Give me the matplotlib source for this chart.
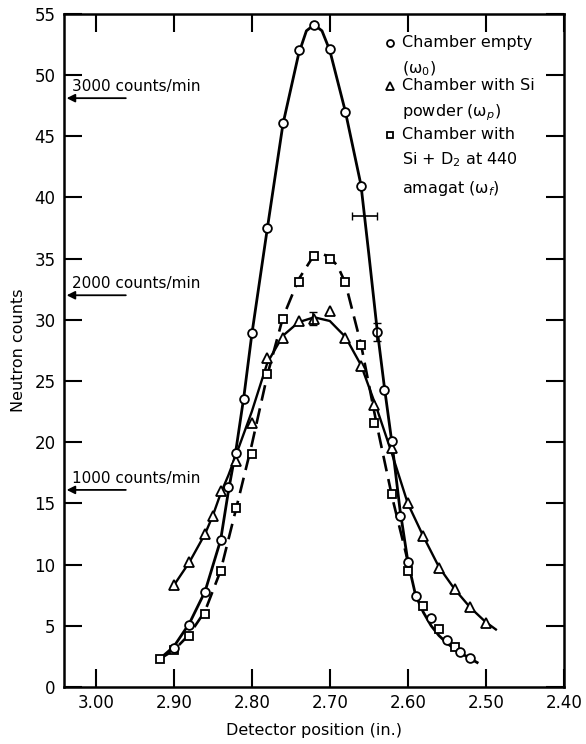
import numpy as np
import matplotlib
matplotlib.use("Agg")
import matplotlib.pyplot as plt

plt.rcParams['font.family'] = ['DejaVu Sans']

# measured points
empty_x = [2.90, 2.88, 2.86, 2.84, 2.83, 2.82, 2.81, 2.80, 2.78, 2.76, 2.74, 2.72, 2.70,
           2.68, 2.66, 2.64, 2.63, 2.62, 2.61, 2.60, 2.59, 2.57, 2.55, 2.533, 2.52]
empty_y = [3.2, 5.1, 7.8, 12.0, 16.3, 19.1, 23.5, 28.9, 37.5, 46.1, 52.0, 54.1, 52.1,
           47.0, 40.9, 29.0, 24.3, 20.1, 14.0, 10.2, 7.4, 5.6, 3.8, 2.9, 2.4]

powder_x = [2.90, 2.88, 2.86, 2.85, 2.84, 2.82, 2.80, 2.78, 2.76, 2.74, 2.72, 2.70,
            2.68, 2.66, 2.643, 2.62, 2.60, 2.58, 2.56, 2.54, 2.52, 2.50]
powder_y = [8.3, 10.2, 12.5, 14.0, 16.0, 18.5, 21.6, 26.9, 28.5, 29.9, 30.1, 30.7,
            28.5, 26.2, 23.0, 19.5, 15.0, 12.3, 9.7, 8.0, 6.5, 5.2]

d2_x = [2.918, 2.90, 2.88, 2.86, 2.84, 2.82, 2.80, 2.78, 2.76, 2.74, 2.72, 2.70,
        2.68, 2.66, 2.643, 2.62, 2.60, 2.58, 2.56, 2.54]
d2_y = [2.3, 3.0, 4.2, 6.0, 9.5, 14.6, 19.0, 25.6, 30.1, 33.1, 35.2, 35.0,
        33.1, 27.9, 21.6, 15.8, 9.5, 6.6, 4.7, 3.3]

# hand-drawn fitted curves
empty_fit_x = [2.918, 2.90, 2.88, 2.86, 2.84, 2.83, 2.82, 2.81, 2.80, 2.78, 2.76, 2.74,
               2.73, 2.72, 2.71, 2.70, 2.68, 2.66, 2.65, 2.64, 2.63, 2.62, 2.61, 2.60,
               2.59, 2.58, 2.57, 2.56, 2.55, 2.54, 2.53, 2.511]
empty_fit_y = [2.3, 3.3, 5.2, 7.8, 12.0, 16.0, 19.5, 23.8, 28.8, 37.5, 46.0, 51.7,
               53.6, 54.1, 53.6, 52.0, 47.0, 41.0, 35.4, 29.6, 24.5, 19.8, 14.5, 10.3,
               7.5, 6.1, 5.0, 4.2, 3.6, 3.1, 2.7, 2.0]

powder_fit_x = [2.90, 2.88, 2.86, 2.85, 2.84, 2.83, 2.82, 2.80, 2.78, 2.76, 2.74, 2.72,
                2.70, 2.68, 2.66, 2.64, 2.62, 2.60, 2.58, 2.56, 2.54, 2.52, 2.50, 2.487]
powder_fit_y = [8.3, 10.2, 12.5, 14.0, 15.8, 17.3, 19.0, 22.5, 26.5, 28.7, 29.8, 30.2,
                29.9, 28.6, 26.3, 22.8, 19.0, 15.0, 12.3, 9.8, 8.0, 6.5, 5.3, 4.7]

d2_fit_x = [2.918, 2.90, 2.88, 2.86, 2.84, 2.82, 2.80, 2.78, 2.76, 2.74, 2.72, 2.71,
            2.70, 2.69, 2.68, 2.66, 2.64, 2.62, 2.60]
d2_fit_y = [2.3, 3.0, 4.3, 6.2, 9.5, 14.6, 19.8, 25.5, 30.2, 33.3, 35.3, 35.4,
            35.1, 34.4, 33.0, 28.0, 21.5, 15.5, 10.3]

# count-rate markers on the left axis
rate_labels = ["3000 counts/min", "2000 counts/min", "1000 counts/min"]
rate_y = [48.1, 32.0, 16.1]

fig = plt.figure(figsize=(5.86, 7.44), dpi=100)
ax = fig.add_axes([0.109, 0.0766, 0.853, 0.905])

ax.plot(empty_fit_x, empty_fit_y, color='black', lw=2.0, zorder=2)
ax.plot(powder_fit_x, powder_fit_y, color='black', lw=1.7, zorder=2)
ax.plot(d2_fit_x, d2_fit_y, color='black', lw=1.9, dashes=(6, 3), zorder=2)

mk = dict(ls='none', mfc='white', mec='black', mew=1.3, zorder=3)
ax.plot(d2_x, d2_y, marker='s', ms=6, **mk)
ax.plot(powder_x, powder_y, marker='^', ms=6.5, **mk)
ax.plot(empty_x, empty_y, marker='o', ms=6.3, **mk)

# error bars
ax.errorbar([2.721], [30.1], yerr=[0.5], fmt='none', ecolor='black', elinewidth=1.2, capsize=3, zorder=4)
ax.errorbar([2.640], [29.0], yerr=[0.7], fmt='none', ecolor='black', elinewidth=1.2, capsize=3, zorder=4)
ax.errorbar([2.656], [38.5], xerr=[0.016], fmt='none', ecolor='black', elinewidth=1.2, capsize=3, zorder=4)

for lab, yv in zip(rate_labels, rate_y):
    ax.annotate('', xy=(3.041, yv), xytext=(2.958, yv),
                arrowprops=dict(arrowstyle='-|>', color='black', lw=1.3, mutation_scale=12))
    ax.text(3.031, yv + 0.35, lab, fontsize=11, ha='left', va='bottom')

# legend
leg_mx = 0.652
leg_tx = 0.676
ax.plot([leg_mx], [0.957], transform=ax.transAxes, marker='o', ms=5, **mk)
ax.plot([leg_mx], [0.893], transform=ax.transAxes, marker='^', ms=5.5, **mk)
ax.plot([leg_mx], [0.820], transform=ax.transAxes, marker='s', ms=5, **mk)
lines = [(0.957, "Chamber empty"), (0.918, "(ω$_0$)"),
         (0.893, "Chamber with Si"), (0.853, "powder (ω$_p$)"),
         (0.820, "Chamber with"), (0.783, "Si + D$_2$ at 440"),
         (0.741, "amagat (ω$_f$)")]
for yy, t in lines:
    ax.text(leg_tx, yy, t, transform=ax.transAxes, fontsize=11.5, va='center', ha='left')

ax.set_xlim(3.041, 2.40)
ax.set_ylim(0, 55)
ax.set_xticks([3.00, 2.90, 2.80, 2.70, 2.60, 2.50, 2.40])
ax.set_xticklabels(["3.00", "2.90", "2.80", "2.70", "2.60", "2.50", "2.40"])
ax.set_yticks(np.arange(0, 56, 5))
ax.tick_params(direction='in', length=13, width=1.5, top=True, right=True,
               labelsize=12, pad=6)
ax.tick_params(axis='x', pad=5)
for s in ax.spines.values():
    s.set_linewidth(1.8)

ax.set_xlabel("Detector position (in.)", fontsize=11.5, labelpad=8)
ax.set_ylabel("Neutron counts", fontsize=11.5, labelpad=6)

fig.savefig("out.png", dpi=100)
